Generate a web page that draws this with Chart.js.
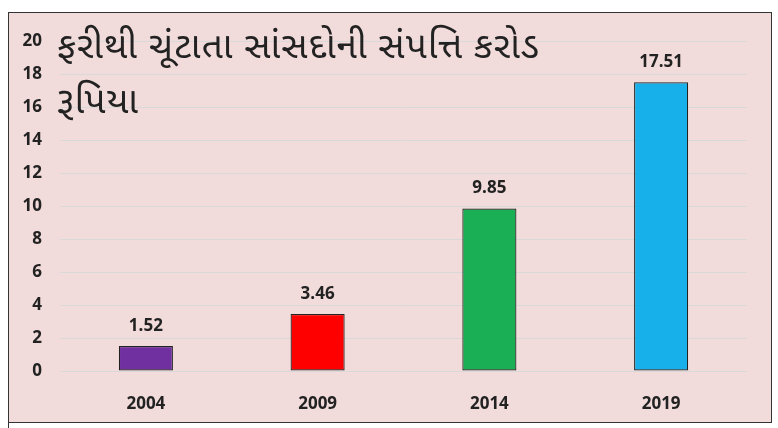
<!DOCTYPE html>
<html>
<head>
<meta charset="utf-8">
<script src="https://cdn.jsdelivr.net/npm/chart.js@4"></script>
<style>
  body { margin: 0; background: #ffffff; width: 778px; height: 428px; overflow: hidden; position: relative; }
  #frame { position: absolute; left: 8px; top: 12px; width: 762px; height: 409px; border: 1.5px solid #333; background: #f2dcdb; }
  #below { position: absolute; left: 8px; top: 423px; width: 762px; height: 20px; border-left: 1.5px solid #333; }
  #title { position: absolute; left: 57px; top: 22px; width: 620px; font-family: "Noto Sans Gujarati", "Noto Sans", sans-serif; font-size: 37px; line-height: 55px; color: #222; letter-spacing: 1px; pointer-events: none; white-space: nowrap; }
  canvas { display: block; }
</style>
</head>
<body>
<div id="frame"><canvas id="chart" width="762" height="409"></canvas></div>
<div id="below"></div>
<div id="title">ફરીથી ચૂંટાતા સાંસદોની સંપત્તિ કરોડ<br>રૂપિયા</div>
<script>
// Data
let years = ["2004", "2009", "2014", "2019"];
let assets = [1.52, 3.46, 9.85, 17.51];
let barColors = ["#7030a0", "#ff0000", "#1aaf54", "#17b0ea"];
let yTicks = [0, 2, 4, 6, 8, 10, 12, 14, 16, 18, 20];

let tickFont = { family: "'Open Sans', sans-serif", size: 17, weight: "bold" };

// Value labels over the bars
let valueLabels = {
    id: "valueLabels",
    afterDatasetsDraw(chart) {
        let ctx = chart.ctx;
        let meta = chart.getDatasetMeta(0);
        ctx.save();
        ctx.font = "bold 17px 'Open Sans', sans-serif";
        ctx.fillStyle = "#222";
        ctx.textAlign = "center";
        ctx.textBaseline = "middle";
        meta.data.forEach((bar, i) => {
            ctx.fillText(assets[i].toFixed(2), bar.x, bar.y - 20);
        });
        ctx.restore();
    }
};

let chart = new Chart(document.getElementById("chart"), {
    type: "bar",
    data: {
        labels: years,
        datasets: [{
            data: assets,
            backgroundColor: barColors,
            borderColor: "#222",
            borderWidth: 1.2,
            borderSkipped: false,
            categoryPercentage: 1,
            barPercentage: 0.315
        }]
    },
    options: {
        responsive: false,
        animation: false,
        layout: { padding: { top: 28, right: 24, bottom: 0, left: 0 } },
        plugins: { legend: { display: false }, tooltip: { enabled: false } },
        scales: {
            x: {
                grid: { display: false },
                border: { display: false },
                ticks: { color: "#222", font: tickFont, padding: 15 },
                afterFit(scale) { scale.height = 51; }
            },
            y: {
                min: 0,
                max: 20,
                afterBuildTicks(scale) { scale.ticks = yTicks.map(v => ({ value: v })); },
                grid: { color: "#d9d9d9", lineWidth: 1, drawTicks: false },
                border: { display: false },
                ticks: { color: "#222", font: tickFont, padding: 18 },
                afterFit(scale) { scale.width = 51; }
            }
        }
    },
    plugins: [valueLabels]
});
</script>
</body>
</html>
